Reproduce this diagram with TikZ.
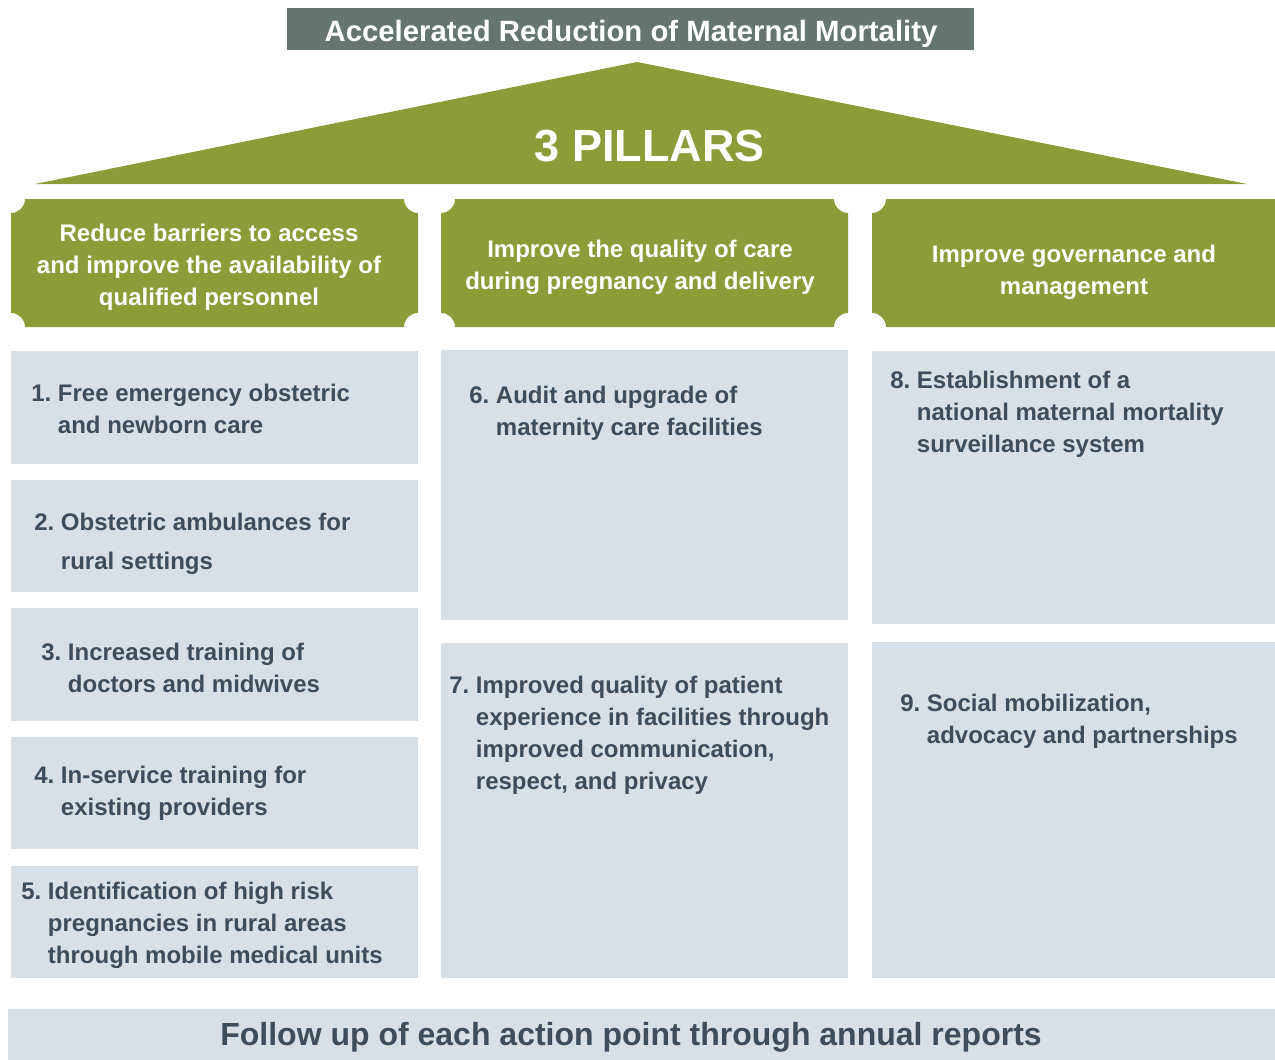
\documentclass[tikz,border=0pt]{standalone}
\usepackage{fontspec}
\setmainfont{Liberation Sans}
\frenchspacing
\definecolor{pgreen}{HTML}{8C9C38}
\definecolor{hgray}{HTML}{677570}
\definecolor{lbox}{HTML}{D8E0E6}
\definecolor{itext}{HTML}{3D4D5B}
\newcommand\plaquepath[5]{%
  (#1+#5,#2) -- (#3-#5,#2) arc[start angle=180,end angle=90,radius=#5]
  -- (#3,#4-#5) arc[start angle=270,end angle=180,radius=#5]
  -- (#1+#5,#4) arc[start angle=0,end angle=-90,radius=#5]
  -- (#1,#2+#5) arc[start angle=90,end angle=0,radius=#5] -- cycle}
\begin{document}
\begin{tikzpicture}[x=0.75pt,y=-0.75pt,
  itemtxt/.style={anchor=north west,inner sep=0pt,align=left,text=itext,
    font=\bfseries\fontsize{18}{24}\selectfont},
  pillartxt/.style={inner sep=0pt,align=center,text=white,
    font=\bfseries\fontsize{18}{24}\selectfont}]
\clip (0,0) rectangle (1275,1060);
\useasboundingbox (0,0) rectangle (1275,1060);
% title
\fill[hgray] (287,8) rectangle (974,50);
\node[text=white,font=\bfseries\fontsize{22}{26}\selectfont,inner sep=0pt] (title) at (631,34) {Accelerated Reduction of Maternal Mortality};
% roof
\fill[pgreen] (637,62) -- (1247,184) -- (35,184) -- cycle;
\node[text=white,font=\bfseries\fontsize{33.75}{40}\selectfont,inner sep=0pt] (roof) at (650,146) {3 PILLARS};
% pillar headers
\fill[pgreen] \plaquepath{11}{199}{418}{327}{14};
\fill[pgreen] \plaquepath{441}{199}{848}{327}{14};
\fill[pgreen] \plaquepath{872}{199}{1289}{327}{14};
\node[pillartxt] (p1) at (209,267) {Reduce barriers to access\\and improve the availability of\\qualified personnel};
\node[pillartxt] (p2) at (640,267) {Improve the quality of care\\during pregnancy and delivery};
\node[pillartxt] (p3) at (1074,272) {Improve governance and\\management};
% boxes
\fill[lbox] (11,351) rectangle (418,464);
\fill[lbox] (11,480) rectangle (418,592);
\fill[lbox] (11,608) rectangle (418,721);
\fill[lbox] (11,737) rectangle (418,849);
\fill[lbox] (11,866) rectangle (418,978);
\fill[lbox] (441,350) rectangle (848,620);
\fill[lbox] (441,643) rectangle (848,978);
\fill[lbox] (872,351) rectangle (1280,624);
\fill[lbox] (872,642) rectangle (1280,978);
\fill[lbox] (8,1009) rectangle (1280,1065);
% item texts
\node[itemtxt] (i1) at (31,384) {1. Free emergency obstetric\\\hphantom{1. }and newborn care};
\node[itemtxt,font=\bfseries\fontsize{18}{29.25}\selectfont] (i2) at (34,513) {2. Obstetric ambulances for\\\hphantom{2. }rural settings};
\node[itemtxt] (i3) at (41,643) {3. Increased training of\\\hphantom{3. }doctors and midwives};
\node[itemtxt] (i4) at (34,766) {4. In-service training for\\\hphantom{4. }existing providers};
\node[itemtxt] (i5) at (21,882) {5. Identification of high risk\\\hphantom{5. }pregnancies in rural areas\\\hphantom{5. }through mobile medical units};
\node[itemtxt] (i6) at (469,386) {6. Audit and upgrade of\\\hphantom{6. }maternity care facilities};
\node[itemtxt] (i7) at (449,676) {7. Improved quality of patient\\\hphantom{7. }experience in facilities through\\\hphantom{7. }improved communication,\\\hphantom{7. }respect, and privacy};
\node[itemtxt] (i8) at (890,371) {8. Establishment of a\\\hphantom{8. }national maternal mortality\\\hphantom{8. }surveillance system};
\node[itemtxt] (i9) at (900,694) {9. Social mobilization,\\\hphantom{9. }advocacy and partnerships};
\node[text=itext,font=\bfseries\fontsize{24}{28}\selectfont,inner sep=0pt] (foot) at (631,1037) {Follow up of each action point through annual reports};
\end{tikzpicture}
\end{document}
